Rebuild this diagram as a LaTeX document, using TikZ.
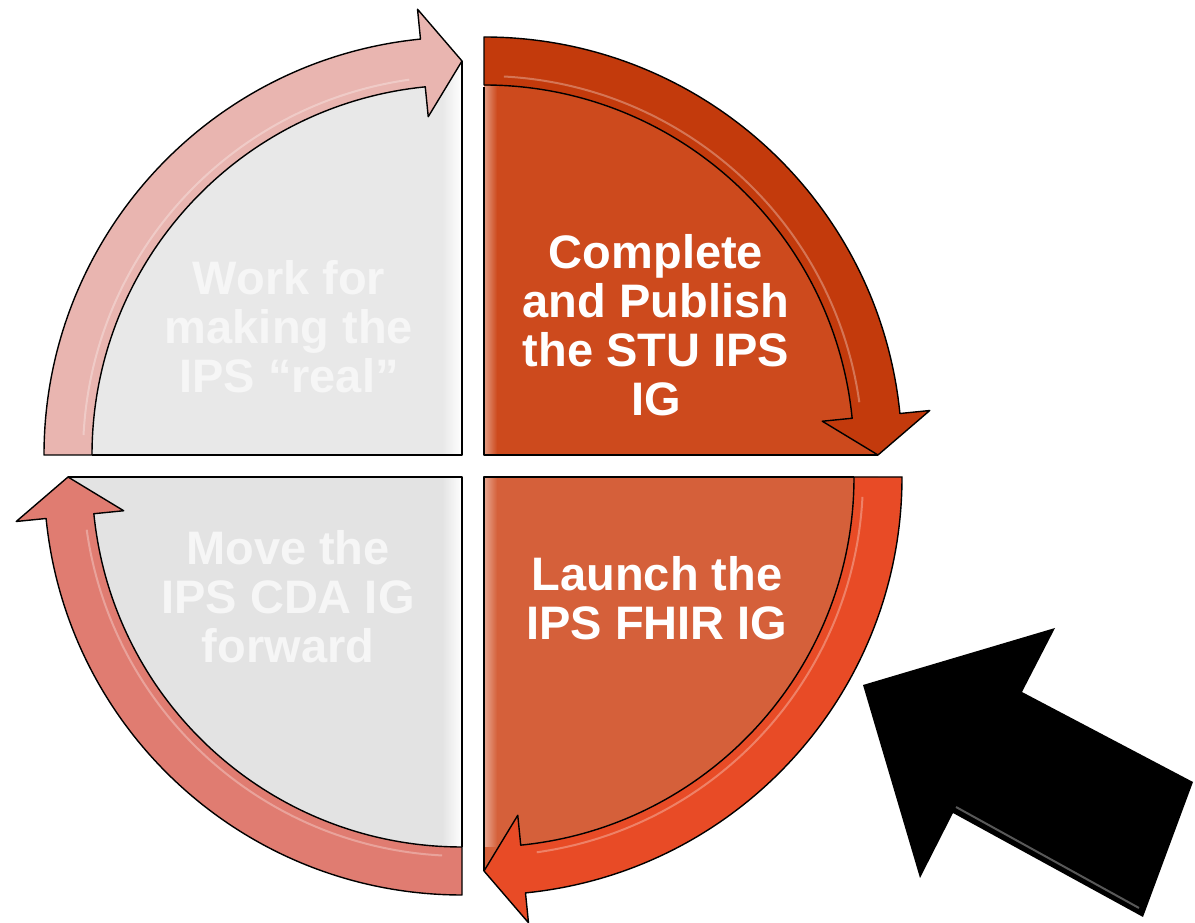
\documentclass[tikz,border=0pt]{standalone}
\usepackage{fontspec}
\setmainfont{Liberation Sans}
\usetikzlibrary{calc}
\definecolor{tlband}{HTML}{E9B5B0}
\definecolor{tlsect}{HTML}{E8E8E8}
\definecolor{trband}{HTML}{C33A0C}
\definecolor{trsect}{HTML}{CD4A1D}
\definecolor{brband}{HTML}{E84B26}
\definecolor{brsect}{HTML}{D5603A}
\definecolor{blband}{HTML}{E07C71}
\definecolor{blsect}{HTML}{E3E3E3}
\definecolor{paletext}{HTML}{F6F6F6}
\tikzset{
  outline/.style={draw=black, line width=1.4pt, line join=round},
  lbl/.style={font=\fontsize{47}{49}\selectfont\bfseries, align=center, text=white, inner sep=0pt},
  palelbl/.style={lbl, text=paletext},
}
% #1 center, #2 tail angle, #3 band colour, #4 sector colour
\newcommand{\quadrant}[4]{%
  \begin{scope}[shift={#1}]
    \fill[#4] (0,0) -- (#2:394pt) arc[start angle=#2, end angle=#2-90, radius=394pt] -- cycle;
  \end{scope}}
\newcommand{\ringarrow}[3]{%
  \begin{scope}[shift={#1}]
    \path[outline, fill=#3] (#2:418pt) arc[start angle=#2, end angle=#2-84.3, radius=418pt]
      -- ({#2-84.3}:448pt) -- ({#2-90}:394pt) -- ({#2-84.3}:340pt) -- ({#2-84.3}:370pt)
      arc[start angle=#2-84.3, end angle=#2, radius=370pt] -- cycle;
    \draw[white, opacity=0.3, line width=2pt] ({#2-3}:379pt) arc[start angle=#2-3, end angle=#2-82, radius=379pt];
  \end{scope}}
\begin{document}
\begin{tikzpicture}[x=1pt, y=1pt]
\useasboundingbox (0,0) rectangle (1195,923);
\fill[white] (0,0) rectangle (1195,923);

% sector fills
\quadrant{(462,468)}{180}{tlband}{tlsect}
\quadrant{(484,468)}{90}{trband}{trsect}
\quadrant{(484,446)}{0}{brband}{brsect}
\quadrant{(462,446)}{-90}{blband}{blsect}

% bevel strips along the vertical edges
\shade[left color=tlsect, right color=white] (442,468) rectangle (462,862);
\shade[left color=blsect, right color=white] (442,446) rectangle (462,76);
\shade[left color=trsect!55!white, right color=trsect] (484,468) rectangle (497,836);
\shade[left color=brsect!55!white, right color=brsect] (484,446) rectangle (497,76);

% straight edges
\draw[outline] (92,468) -- (462,468) -- (462,862);
\draw[outline] (484,836) -- (484,468) -- (878,468);
\draw[outline] (854,446) -- (484,446) -- (484,52);
\draw[outline] (462,76) -- (462,446) -- (68,446);

% ring arrows
\ringarrow{(462,468)}{180}{tlband}
\ringarrow{(484,468)}{90}{trband}
\ringarrow{(484,446)}{0}{brband}
\ringarrow{(462,446)}{-90}{blband}

% labels
\node[palelbl] (work) at (289,596) {Work for\\making the\\IPS “real”};
\node[lbl] (complete) at (656,598) {Complete\\and Publish\\the STU IPS\\IG};
\node[lbl] (launch) at (657,325) {Launch the\\IPS FHIR IG};
\node[palelbl] (move) at (288,326) {Move the\\IPS CDA IG\\forward};

% big black pointer arrow
\fill[black] (863,238) -- (1055,295) -- (1022,231) -- (1193,141) -- (1143,6) -- (953,110) -- (920,45) -- cycle;
\draw[gray!60, opacity=0.5, line width=2pt] (956,116) -- (1139,15);
\end{tikzpicture}
\end{document}
